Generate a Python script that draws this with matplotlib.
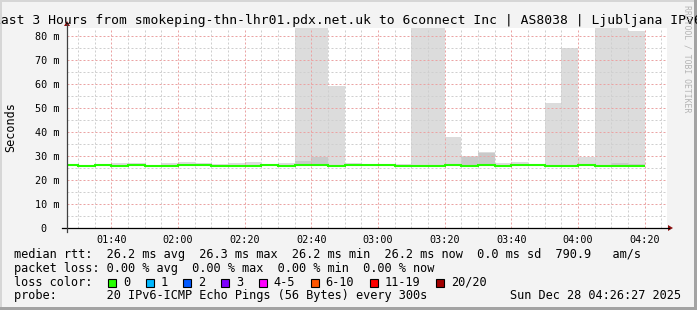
import matplotlib
matplotlib.use('Agg')
import matplotlib.pyplot as plt
from matplotlib.patches import Rectangle, Polygon
from matplotlib.lines import Line2D
from matplotlib.ticker import MultipleLocator, FixedLocator, FuncFormatter

# ---------------- data ----------------
interval_start = ["01:25", "01:30", "01:35", "01:40", "01:45", "01:50", "01:55",
                  "02:00", "02:05", "02:10", "02:15", "02:20", "02:25", "02:30",
                  "02:35", "02:40", "02:45", "02:50", "02:55", "03:00", "03:05",
                  "03:10", "03:15", "03:20", "03:25", "03:30", "03:35", "03:40",
                  "03:45", "03:50", "03:55", "04:00", "04:05", "04:10", "04:15"]
interval_end = "04:20"

median_rtt = [26.4, 25.9, 26.4, 25.95, 26.4, 25.9, 25.9, 26.35, 26.4, 25.9,
              25.9, 25.95, 26.4, 25.9, 26.4, 26.4, 25.9, 26.4, 26.35, 26.4,
              25.9, 25.9, 25.9, 26.4, 25.9, 26.4, 25.9, 26.35, 26.4, 25.9,
              25.9, 26.4, 25.9, 25.9, 25.9]

max_rtt = [26.5, 26.1, 26.5, 26.9, 26.9, 26.1, 27.2, 27.5, 27.1, 26.7,
           26.9, 27.5, 26.5, 27.1, 104.0, 97.0, 59.3, 27.0, 26.5, 26.5,
           26.7, 112.0, 91.0, 38.0, 29.9, 31.7, 27.0, 27.5, 26.8, 52.2,
           75.0, 29.7, 99.0, 88.0, 82.0]

second_max_rtt = [26.4, 25.9, 26.4, 25.95, 26.4, 25.9, 25.9, 26.35, 26.4, 25.9,
                  25.9, 25.95, 26.4, 25.9, 27.9, 29.4, 25.9, 26.4, 26.35, 26.4,
                  25.9, 25.9, 25.9, 26.4, 29.6, 31.4, 25.9, 26.35, 26.4, 25.9,
                  25.9, 26.4, 25.9, 27.2, 26.7]

min_rtt = [25.7, 25.7, 25.7, 25.7, 25.7, 25.7, 25.7, 25.7, 25.7, 25.7,
           25.7, 25.7, 25.7, 25.7, 25.7, 25.7, 25.7, 25.7, 25.7, 25.7,
           25.7, 25.7, 25.7, 25.7, 25.7, 25.7, 25.7, 25.7, 25.7, 25.7,
           25.7, 25.7, 25.7, 25.7, 25.7]

y_ticks = [0, 10, 20, 30, 40, 50, 60, 70, 80]
y_tick_labels = ["0  ", "10 m", "20 m", "30 m", "40 m", "50 m", "60 m", "70 m", "80 m"]
x_tick_labels = ["01:40", "02:00", "02:20", "02:40", "03:00", "03:20", "03:40", "04:00", "04:20"]

loss_labels = ["0", "1", "2", "3", "4-5", "6-10", "11-19", "20/20"]
loss_colors = ["#26ff00", "#00b8ff", "#0059ff", "#7e00ff", "#ff00ff", "#ff5500", "#ff0000", "#a10000"]

title = "Last 3 Hours from smokeping-thn-lhr01.pdx.net.uk to 6connect Inc | AS8038 | Ljubljana IPv6"
line_rtt = "median rtt:  26.2 ms avg  26.3 ms max  26.2 ms min  26.2 ms now  0.0 ms sd  790.9   am/s"
line_loss = "packet loss: 0.00 % avg  0.00 % max  0.00 % min  0.00 % now"
line_probe = "probe:       20 IPv6-ICMP Echo Pings (56 Bytes) every 300s"
stamp = "Sun Dec 28 04:26:27 2025"


def to_min(s):
    h, m = s.split(":")
    return int(h) * 60 + int(m)


edges = [to_min(s) for s in interval_start] + [to_min(interval_end)]
x_ticks = [to_min(s) for s in x_tick_labels]

# ---------------- figure ----------------
W, H = 697, 310
DPI = 100
MONO = "DejaVu Sans Mono"
fig = plt.figure(figsize=(W / DPI, H / DPI), dpi=DPI, facecolor="#f3f3f3")


def fx(x):
    return x / W


def fy(y):
    return 1 - y / H


ax_l, ax_r, ax_t, ax_b = 67, 667, 28, 228
ax = fig.add_axes([fx(ax_l), fy(ax_b), (ax_r - ax_l) / W, (ax_b - ax_t) / H])
ax.set_facecolor("white")
for sp in ax.spines.values():
    sp.set_visible(False)

ax.set_xlim(86.7, 266.7)
ax.set_ylim(0, 83.33)

xs = edges
ax.fill_between(xs, min_rtt + [min_rtt[-1]], max_rtt + [max_rtt[-1]], step="post",
                color="#dcdcdc", lw=0, zorder=1)
ax.fill_between(xs, min_rtt + [min_rtt[-1]], second_max_rtt + [second_max_rtt[-1]], step="post",
                color="#c9c9c9", lw=0, zorder=1.1)
ax.stairs(median_rtt, edges, baseline=None, color="#26ff00", lw=1.5, zorder=3)

# grid
ax.yaxis.set_major_locator(FixedLocator(y_ticks))
ax.yaxis.set_minor_locator(MultipleLocator(5))
ax.xaxis.set_major_locator(FixedLocator(x_ticks))
ax.xaxis.set_minor_locator(MultipleLocator(5))
ax.set_yticklabels(y_tick_labels)
ax.xaxis.set_major_formatter(FuncFormatter(lambda v, p: "%02d:%02d" % (int(v) // 60, int(v) % 60)))
ax.set_axisbelow(False)
ax.grid(which="major", color="#eba3a3", lw=0.72, linestyle=(0, (2, 2)))
ax.grid(which="minor", color="#cfcfcf", lw=0.72, linestyle=(0, (2, 2)))
ax.tick_params(which="both", length=0)
ax.tick_params(axis="y", pad=5.5, labelsize=7.3)
ax.tick_params(axis="x", pad=5.0, labelsize=7.3)
for lab in ax.get_xticklabels() + ax.get_yticklabels():
    lab.set_family(MONO)

# axis lines with extensions and arrows
fig.add_artist(Line2D([fx(62), fx(669)], [fy(228), fy(228)], color="#000000", lw=0.9))
fig.add_artist(Line2D([fx(67), fx(67)], [fy(232), fy(24)], color="#404040", lw=0.9))
fig.add_artist(Polygon([(fx(64), fy(26)), (fx(70), fy(26)), (fx(67), fy(21))], closed=True,
                       transform=fig.transFigure, color="#8b1010", lw=0))
fig.add_artist(Polygon([(fx(668), fy(225)), (fx(668), fy(231)), (fx(673), fy(228))], closed=True,
                       transform=fig.transFigure, color="#8b1010", lw=0))

# frame shading
fig.add_artist(Rectangle((0, fy(2)), 1, 2 / H, transform=fig.transFigure, color="#d6d6d6", lw=0))
fig.add_artist(Rectangle((0, 0), 2 / W, 1, transform=fig.transFigure, color="#d6d6d6", lw=0))
fig.add_artist(Rectangle((0, 0), 1, 3 / H, transform=fig.transFigure, color="#a3a3a3", lw=0))
fig.add_artist(Rectangle((fx(694), 0), 3 / W, 1, transform=fig.transFigure, color="#a3a3a3", lw=0))

# texts
fig.text(fx(347), fy(24), title, ha="center", va="baseline", family=MONO, size=9.4)
fig.text(fx(11), fy(127), "Seconds", rotation=90, ha="center", va="center", family=MONO, size=8.5)
fig.text(fx(687), fy(59), "RRDTOOL / TOBI OETIKER", rotation=270, ha="center", va="center",
         family=MONO, size=5.9, color="#b4b4b4")

LS = 8.55
CW = 7.15
x0 = 14.5
fig.text(fx(x0), fy(258.3), line_rtt, ha="left", va="baseline", family=MONO, size=LS)
fig.text(fx(x0), fy(272), line_loss, ha="left", va="baseline", family=MONO, size=LS)
fig.text(fx(x0), fy(285.7), "loss color:", ha="left", va="baseline", family=MONO, size=LS)
fig.text(fx(x0), fy(299.4), line_probe, ha="left", va="baseline", family=MONO, size=LS)
fig.text(fx(681), fy(299.4), stamp, ha="right", va="baseline", family=MONO, size=LS)

bx = 108
for lab, col in zip(loss_labels, loss_colors):
    fig.add_artist(Rectangle((fx(bx), fy(286.5)), 8 / W, 8 / H, transform=fig.transFigure,
                             facecolor=col, edgecolor="black", lw=0.8))
    fig.text(fx(bx + 15), fy(285.7), lab, ha="left", va="baseline", family=MONO, size=LS)
    bx = bx + 15 + len(lab) * CW + 15.5

fig.savefig("out.png", dpi=DPI, facecolor=fig.get_facecolor())
